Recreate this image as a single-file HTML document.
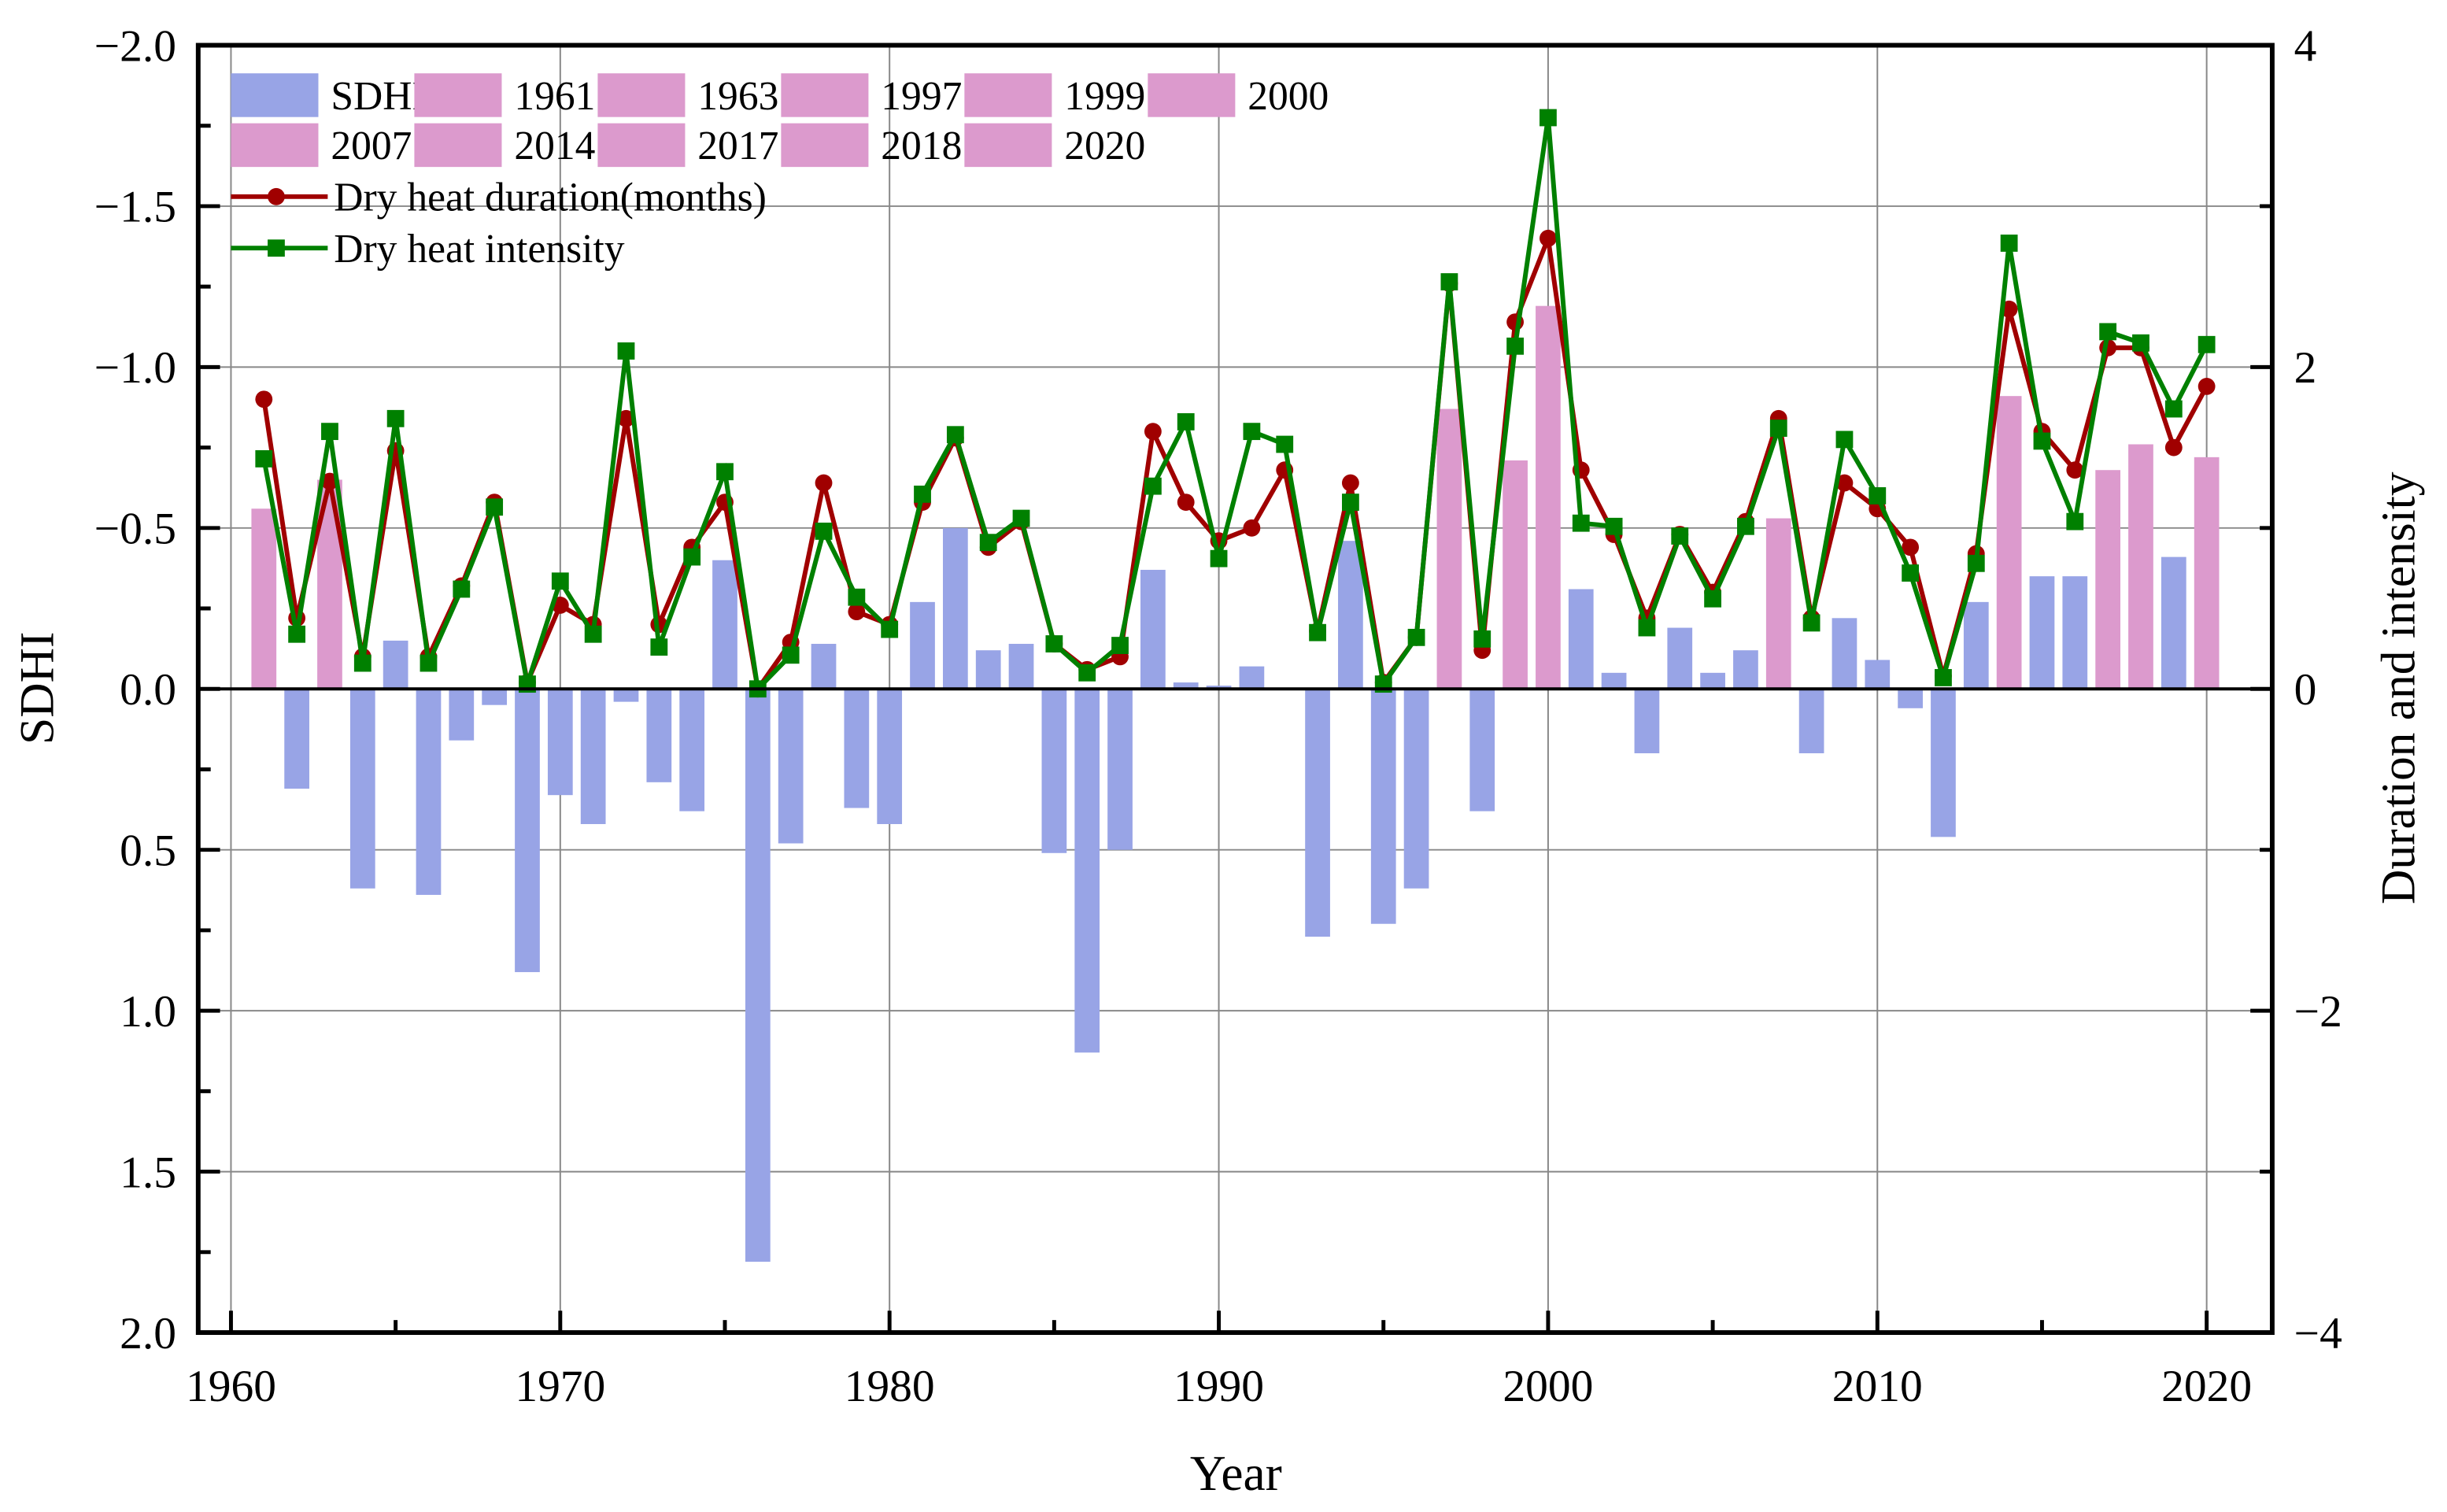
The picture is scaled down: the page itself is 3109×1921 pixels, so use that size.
<!DOCTYPE html>
<html><head><meta charset="utf-8"><style>html,body{margin:0;padding:0;background:#fff}svg{display:block}text{font-family:"Liberation Serif","DejaVu Serif",serif;fill:#000}</style></head>
<body>
<svg id="chart" width="3109" height="1921" viewBox="0 0 1568 969" preserveAspectRatio="none" xmlns="http://www.w3.org/2000/svg">
<g id="grid"></g>
<g id="bars"></g>
<g id="lines"></g>
<g id="axes"></g>
<g id="legend"></g>
<text x="0" y="0" font-size="31" text-anchor="middle" transform="translate(34,441) rotate(-90)">SDHI</text>
<text x="0" y="0" font-size="31" text-anchor="middle" transform="translate(1547,441) rotate(-90)">Duration and intensity</text>
<text x="792" y="955" font-size="32" text-anchor="middle">Year</text>
</svg>
<script>
const years=[];for(let y=1961;y<=2020;y++)years.push(y);
const sdhi=[-0.56,0.31,-0.65,0.62,-0.15,0.64,0.16,0.05,0.88,0.33,0.42,0.04,0.29,0.38,-0.40,1.78,0.48,-0.14,0.37,0.42,-0.27,-0.50,-0.12,-0.14,0.51,1.13,0.50,-0.37,-0.02,-0.01,-0.07,0.0,0.77,-0.46,0.73,0.62,-0.87,0.38,-0.71,-1.19,-0.31,-0.05,0.20,-0.19,-0.05,-0.12,-0.53,0.20,-0.22,-0.09,0.06,0.46,-0.27,-0.91,-0.35,-0.35,-0.68,-0.76,-0.41,-0.72];
const highlightYears=[1961,1963,1997,1999,2000,2007,2014,2017,2018,2020];
const duration=[1.80,0.44,1.29,0.20,1.48,0.20,0.64,1.16,0.04,0.52,0.40,1.68,0.40,0.88,1.16,0,0.29,1.28,0.48,0.40,1.16,1.56,0.88,1.04,0.28,0.12,0.20,1.60,1.16,0.92,1.00,1.36,0.36,1.28,0.04,0.32,2.52,0.24,2.28,2.80,1.36,0.96,0.44,0.96,0.60,1.04,1.68,0.44,1.28,1.12,0.88,0.08,0.84,2.36,1.60,1.36,2.12,2.12,1.50,1.88];
const intensity=[1.43,0.34,1.60,0.16,1.68,0.16,0.62,1.13,0.03,0.67,0.34,2.10,0.26,0.82,1.35,0,0.21,0.98,0.57,0.37,1.21,1.58,0.91,1.06,0.28,0.10,0.27,1.26,1.66,0.81,1.60,1.52,0.35,1.16,0.03,0.32,2.53,0.31,2.13,3.55,1.03,1.01,0.38,0.95,0.56,1.01,1.62,0.41,1.55,1.20,0.72,0.07,0.78,2.77,1.54,1.04,2.22,2.15,1.74,2.14];
const xTicks=[1960,1970,1980,1990,2000,2010,2020];
const yTicks=[-2.0,-1.5,-1.0,-0.5,0.0,0.5,1.0,1.5,2.0];
const y2Ticks=[4,2,0,-2,-4];

const L=127,R=1456,T=29,B=854;
const X=y=>148+(y-1960)*(1414-148)/60;
const Y=v=>T+(v+2)*(B-T)/4;
const Y2=v=>T+(4-v)*(B-T)/8;
const NS="http://www.w3.org/2000/svg";
function mk(parent,tag,attrs){const e=document.createElementNS(NS,tag);for(const k in attrs)e.setAttribute(k,attrs[k]);document.getElementById(parent).appendChild(e);return e;}
const f=v=>v.toFixed(1).replace('-','\u2212');

xTicks.forEach(t=>{const e=mk('grid','line',{x1:X(t),x2:X(t),y1:T,y2:B,stroke:'#888','stroke-width':1});

});
yTicks.forEach(t=>{if(t===0||Math.abs(t)===2)return;const e=mk('grid','line',{x1:L,x2:R,y1:Y(t),y2:Y(t),stroke:'#888','stroke-width':1});

});

const bw=16;
years.forEach((yr,i)=>{const v=sdhi[i];const y0=Y(0),y1=Y(v);
const pink=highlightYears.includes(yr);
const e=mk('bars','rect',{x:X(yr)-bw/2,y:Math.min(y0,y1),width:bw,height:Math.abs(y1-y0),fill:pink?'#DC9ACD':'#98A4E6'});

});

const z=mk('axes','line',{x1:L,x2:R,y1:Y(0),y2:Y(0),stroke:'#000','stroke-width':2});



function series(arr,color,name,marker){
 const pts=years.map((yr,i)=>X(yr)+','+Y2(arr[i])).join(' ');
 const pl=mk('lines','polyline',{points:pts,fill:'none',stroke:color,'stroke-width':3});
 
 
 years.forEach((yr,i)=>{let m;
  if(marker==='c')m=mk('lines','circle',{cx:X(yr),cy:Y2(arr[i]),r:5.5,fill:color});
  else m=mk('lines','rect',{x:X(yr)-5.5,y:Y2(arr[i])-5.5,width:11,height:11,fill:color});
  
  });
}
series(duration,'#A00000','duration','c');
series(intensity,'#008000','intensity','s');

const fr=mk('axes','rect',{x:L,y:T,width:R-L,height:B-T,fill:'none',stroke:'#000','stroke-width':3});


for(let y=1960;y<=2020;y+=5){const maj=y%10===0;const e=mk('axes','line',{x1:X(y),x2:X(y),y1:B,y2:B-(maj?14:8),stroke:'#000','stroke-width':2.5});

}
xTicks.forEach(t=>{const e=mk('axes','text',{x:X(t),y:B+44,'font-size':29,'text-anchor':'middle'});e.textContent=t;

});
for(let v=-2;v<=2.001;v+=0.25){const maj=Math.abs(v*2-Math.round(v*2))<1e-6;const e=mk('axes','line',{x1:L,x2:L+(maj?14:8),y1:Y(v),y2:Y(v),stroke:'#000','stroke-width':2.5});

}
yTicks.forEach(t=>{const e=mk('axes','text',{x:L-14,y:Y(t)+10,'font-size':29,'text-anchor':'end'});e.textContent=f(t);

});
for(let v=-4;v<=4;v+=1){const maj=v%2===0;const e=mk('axes','line',{x1:R,x2:R-(maj?14:8),y1:Y2(v),y2:Y2(v),stroke:'#000','stroke-width':2.5});

}
y2Ticks.forEach(t=>{const e=mk('axes','text',{x:R+14,y:Y2(t)+10,'font-size':29,'text-anchor':'start'});e.textContent=String(t).replace('-','\u2212');

});

const legItems=[['SDHI','#98A4E6'],['1961','#DC9ACD'],['1963','#DC9ACD'],['1997','#DC9ACD'],['1999','#DC9ACD'],['2000','#DC9ACD'],['2007','#DC9ACD'],['2014','#DC9ACD'],['2017','#DC9ACD'],['2018','#DC9ACD'],['2020','#DC9ACD']];
legItems.forEach((it,i)=>{const r=Math.floor(i/6),c=i%6;const x0=148+c*117.5,y0=47+r*32;
 const b=mk('legend','rect',{x:x0,y:y0,width:56,height:28,fill:it[1]});
 
 
 const t=mk('legend','text',{x:x0+64,y:y0+23,'font-size':26});t.textContent=it[0];
 
 });
[['Dry heat duration(months)','#A00000','c',126],['Dry heat intensity','#008000','s',159]].forEach(it=>{
 const l=mk('legend','line',{x1:148,x2:210,y1:it[3],y2:it[3],stroke:it[1],'stroke-width':3});
 
 
 let m;if(it[2]==='c')m=mk('legend','circle',{cx:177,cy:it[3],r:5.5,fill:it[1]});else m=mk('legend','rect',{x:171.5,y:it[3]-5.5,width:11,height:11,fill:it[1]});
 
 
 const t=mk('legend','text',{x:214,y:it[3]+9,'font-size':26});t.textContent=it[0];
 
 });
</script>
</body></html>
